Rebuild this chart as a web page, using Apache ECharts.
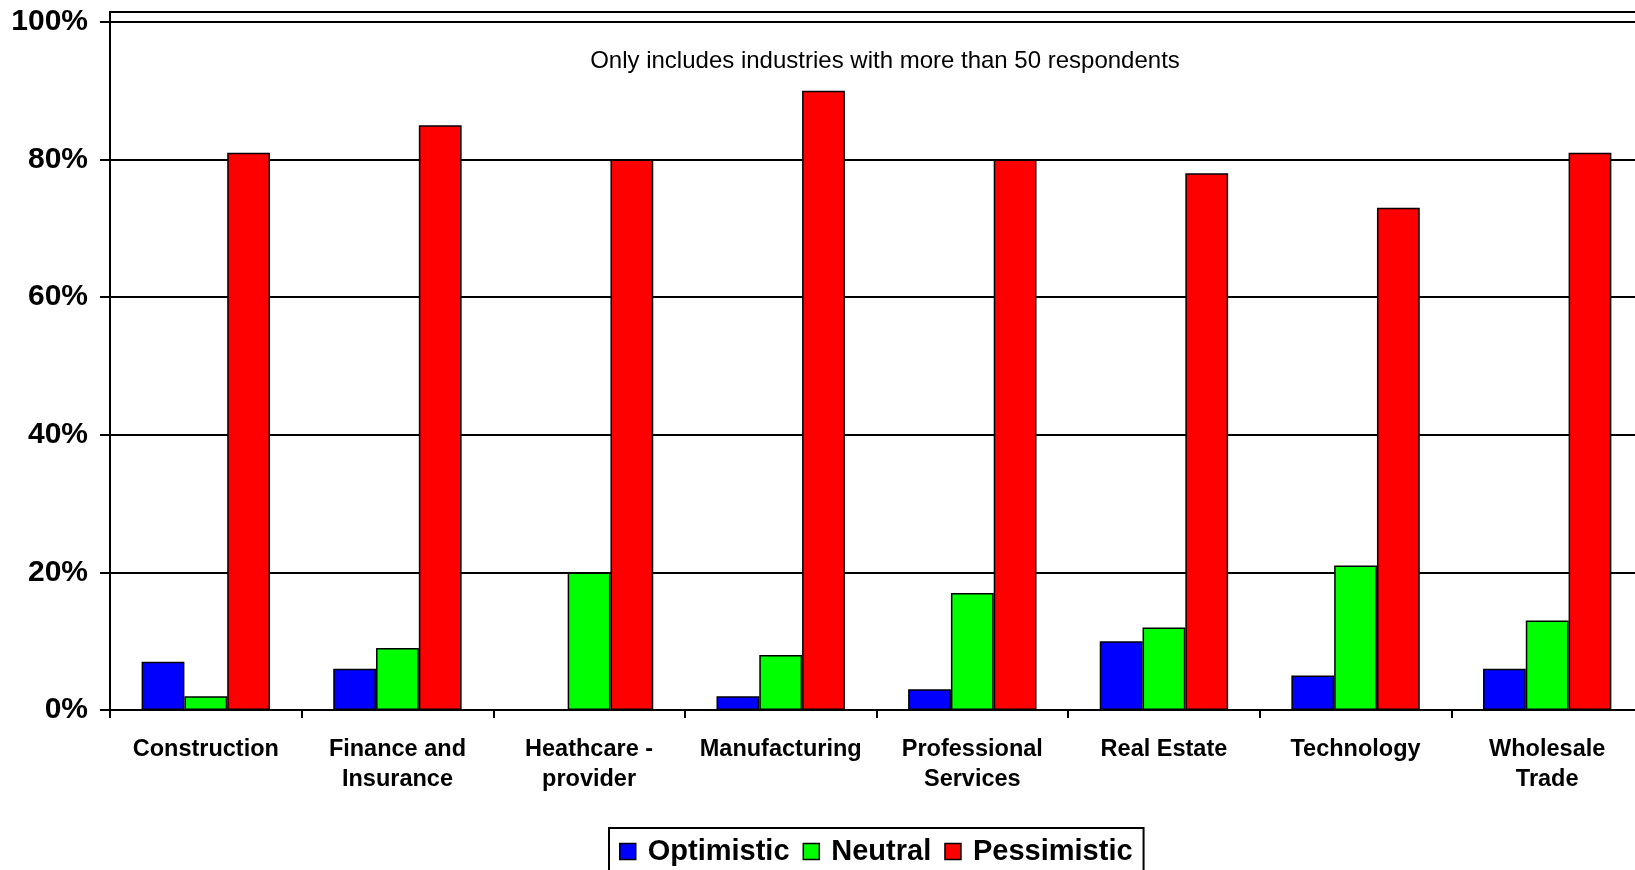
<!DOCTYPE html>
<html>
<head>
<meta charset="utf-8">
<title>Outlook by industry</title>
<script src="https://cdn.jsdelivr.net/npm/echarts@6/dist/echarts.min.js"></script>
<style>
  html, body { margin: 0; padding: 0; background: #ffffff; overflow: hidden; }
  /* the plot area runs slightly past the right edge of the window */
  #chart { width: 1660px; height: 870px; }
</style>
</head>
<body>
<div id="chart"></div>
<script>
// Industries shown on the category axis
const industries = [
  'Construction', 'Finance and\nInsurance', 'Heathcare -\nprovider', 'Manufacturing',
  'Professional\nServices', 'Real Estate', 'Technology', 'Wholesale\nTrade'
];

// Share of respondents per outlook (percent)
const optimistic  = [7, 6, 0, 2, 3, 10, 5, 6];
const neutral     = [2, 9, 20, 8, 17, 12, 21, 13];
const pessimistic = [81, 85, 80, 90, 80, 78, 73, 81];

const seriesNames = ['Optimistic', 'Neutral', 'Pessimistic'];
const seriesColors = ['#0000ff', '#00ff00', '#ff0000'];
const seriesData = [optimistic, neutral, pessimistic];

const noteText = 'Only includes industries with more than 50 respondents';

const FONT = '"Liberation Sans", Arial, sans-serif';

const chart = echarts.init(document.getElementById('chart'), null, { renderer: 'canvas' });

const option = {
  backgroundColor: '#ffffff',
  animation: false,
  textStyle: { fontFamily: FONT, color: '#000' },
  grid: { left: 110, top: 22, width: 1533, bottom: 160, containLabel: false },
  legend: {
    data: seriesNames,
    left: 609,
    top: 828,
    orient: 'horizontal',
    padding: [9, 11, 20, 10],
    itemWidth: 16,
    itemHeight: 16,
    itemGap: 13,
    borderColor: '#000',
    borderWidth: 2,
    icon: 'rect',
    itemStyle: { borderColor: '#000', borderWidth: 1.5 },
    textStyle: {
      fontFamily: FONT, fontSize: 29, fontWeight: 'bold', color: '#000',
      padding: [0, 0, 0, 7]
    }
  },
  xAxis: {
    type: 'category',
    data: industries,
    axisLine: { lineStyle: { color: '#000', width: 2 } },
    axisTick: { show: true, length: 8, lineStyle: { color: '#000', width: 2 } },
    axisLabel: {
      interval: 0,
      margin: 25,
      fontFamily: FONT, fontSize: 23.5, fontWeight: 'bold', color: '#000',
      lineHeight: 30, align: 'center'
    },
    splitLine: { show: false }
  },
  yAxis: {
    type: 'value',
    min: 0,
    max: 100,
    interval: 20,
    axisLine: { show: true, lineStyle: { color: '#000', width: 2 } },
    axisTick: { show: true, length: 10, lineStyle: { color: '#000', width: 2 } },
    axisLabel: {
      formatter: '{value}%',
      margin: 22,
      fontFamily: FONT, fontSize: 30, fontWeight: 'bold', color: '#000'
    },
    splitLine: { show: true, lineStyle: { color: '#000', width: 2 } }
  },
  series: seriesData.map((d, i) => ({
    name: seriesNames[i],
    type: 'bar',
    data: d,
    barGap: '0%',
    barCategoryGap: '33%',
    itemStyle: { color: seriesColors[i], borderColor: '#000', borderWidth: 1.5 }
  })),
  graphic: [
    {
      // plot-area frame above the 100% gridline
      type: 'polyline',
      silent: true,
      shape: { points: [[110, 22], [110, 12], [1660, 12]] },
      style: { stroke: '#000', lineWidth: 2, fill: null }
    },
    {
      type: 'text',
      silent: true,
      x: 885,
      y: 61,
      style: {
        text: noteText,
        font: '24px "Liberation Sans", Arial, sans-serif',
        fill: '#000',
        align: 'center',
        verticalAlign: 'middle'
      }
    }
  ]
};

chart.setOption(option);
</script>
</body>
</html>
